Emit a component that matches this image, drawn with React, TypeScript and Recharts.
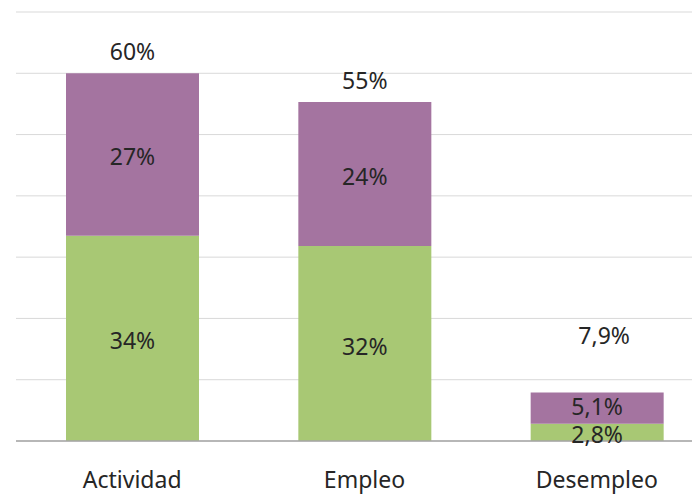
import React from "react";
import { BarChart, Bar, XAxis, YAxis, CartesianGrid, LabelList } from "recharts";

const categories = ["Actividad", "Empleo", "Desempleo"];
const greenValues = [33.5, 31.8, 2.8];
const purpleValues = [26.5, 23.5, 5.1];
const totalValues = [60, 55.3, 7.9];
const yTicks = [0, 10, 20, 30, 40, 50, 60, 70];

const data = categories.map((c, i) => ({
  name: c,
  green: greenValues[i],
  purple: purpleValues[i],
  total: totalValues[i],
}));

const fmt = (v: number) =>
  v < 10 ? v.toFixed(1).replace(".", ",") + "%" : Math.round(v) + "%";

const FONT = "'Noto Sans', sans-serif";
const FS = 23;

const TotalLabel = (props: any) => {
  const { x, y, width, index } = props;
  const total = totalValues[index];
  const fullH = 441 - y;
  const small = fullH < 80;
  const offset = small ? 58 : 22;
  return (
    <text
      x={x + width / 2 + (small ? 7 : 0)}
      y={y - offset}
      textAnchor="middle"
      dominantBaseline="central"
      fontFamily={FONT}
      fontSize={FS}
      fill="#262626"
    >
      {fmt(total)}
    </text>
  );
};

const makeCenterLabel = (smallShift: number) => (props: any) => {
  const { x, y, width, height, value } = props;
  const small = Math.abs(height) < 40;
  return (
    <text
      x={x + width / 2}
      y={y + height / 2 + (small ? smallShift : 2)}
      textAnchor="middle"
      dominantBaseline="central"
      fontFamily={FONT}
      fontSize={FS}
      fill="#262626"
    >
      {fmt(value)}
    </text>
  );
};

const GreenLabel = makeCenterLabel(2);
const PurpleLabel = makeCenterLabel(-2);

export default function App() {
  return (
    <div
      style={{
        position: "fixed",
        left: 0,
        top: 0,
        width: 692,
        height: 496,
        overflow: "hidden",
        background: "#fff",
      }}
    >
      <BarChart
        width={730}
        height={496}
        data={data}
        margin={{ top: 12, right: 17, bottom: 0, left: 16 }}
        barSize={133}
      >
        <CartesianGrid vertical={false} stroke="#d9d9d9" strokeWidth={1} />
        <YAxis hide domain={[0, 70]} ticks={yTicks} />
        <XAxis
          dataKey="name"
          height={55}
          axisLine={{ stroke: "#a6a6a6", strokeWidth: 1.5 }}
          tickLine={false}
          tickMargin={25}
          tick={{ fontFamily: FONT, fontSize: FS, fill: "#262626" }}
        />
        <Bar dataKey="green" stackId="a" fill="#a8c874" isAnimationActive={false}>
          <LabelList dataKey="green" content={<GreenLabel />} />
        </Bar>
        <Bar dataKey="purple" stackId="a" fill="#a474a0" isAnimationActive={false}>
          <LabelList dataKey="purple" content={<PurpleLabel />} />
          <LabelList dataKey="total" content={<TotalLabel />} />
        </Bar>
      </BarChart>
    </div>
  );
}
